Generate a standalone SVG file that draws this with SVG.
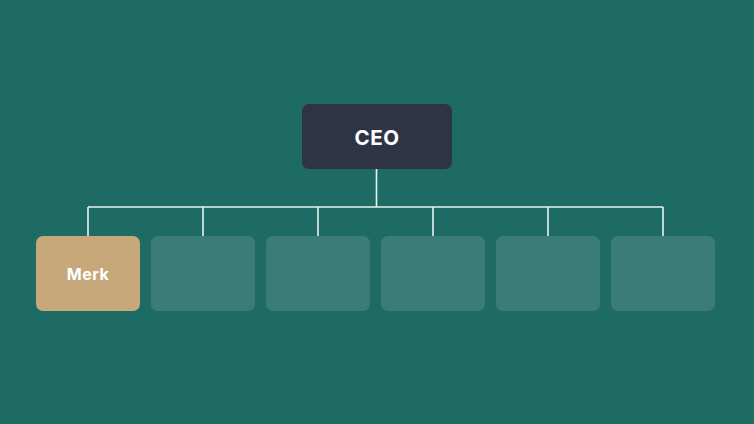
<svg xmlns="http://www.w3.org/2000/svg" width="754" height="424" viewBox="0 0 754 424">
<style>
.lbl{font-family:"Inter","Open Sans","Liberation Sans",sans-serif;font-weight:700;fill:#ffffff;text-anchor:middle;dominant-baseline:central;letter-spacing:0.5px}
.empty{fill:#3b7c78}
.conn{stroke:#e6f3f1;stroke-width:1.6;fill:none}
</style>
<rect width="754" height="424" fill="#1e6b65"/>
<g id="connectors">
<path class="conn" d="M376.5 169V207M88 207H663M88 207V236M203 207V236M318 207V236M433 207V236M548 207V236M663 207V236"/>
</g>
<g id="ceo">
<rect x="302" y="104" width="150" height="65" rx="7" fill="#2e3446"/>
<text class="lbl" x="377" y="137" font-size="20.5">CEO</text>
</g>
<g id="merk">
<rect x="36" y="236" width="104" height="75" rx="7" fill="#c6a87a"/>
<text class="lbl" x="88" y="273.5" font-size="16">Merk</text>
</g>
<g id="box2"><rect class="empty" x="151" y="236" width="104" height="75" rx="7"/></g>
<g id="box3"><rect class="empty" x="266" y="236" width="104" height="75" rx="7"/></g>
<g id="box4"><rect class="empty" x="381" y="236" width="104" height="75" rx="7"/></g>
<g id="box5"><rect class="empty" x="496" y="236" width="104" height="75" rx="7"/></g>
<g id="box6"><rect class="empty" x="611" y="236" width="104" height="75" rx="7"/></g>
</svg>
